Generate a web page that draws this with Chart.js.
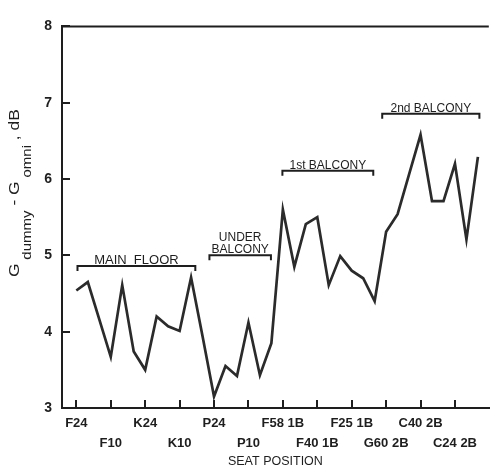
<!DOCTYPE html>
<html>
<head>
<meta charset="utf-8">
<script src="https://cdn.jsdelivr.net/npm/chart.js@4.4.0/dist/chart.umd.min.js"></script>
<style>
  html, body { margin: 0; padding: 0; background: #fff; }
  #wrap { width: 490px; height: 470px; }
</style>
</head>
<body>
<div id="wrap"><canvas id="chart"></canvas></div>
<script>
// seat number along the hall (one step per measured seat)
const seatIndex = [0, 1, 2, 3, 4, 5, 6, 7, 8, 9, 10, 11, 12, 13, 14, 15, 16, 17,
                   18, 19, 20, 21, 22, 23, 24, 25, 26, 27, 28, 29, 30, 31, 32, 33, 34, 35];
// G dummy - G omni, dB
const gainDiff = [4.54, 4.65, 4.16, 3.67, 4.61, 3.74, 3.50, 4.20, 4.07, 4.01, 4.71, 3.94,
                  3.15, 3.55, 3.42, 4.12, 3.43, 3.85, 5.60, 4.85, 5.41, 5.50, 4.61, 4.99,
                  4.80, 4.70, 4.40, 5.31, 5.54, 6.06, 6.58, 5.71, 5.71, 6.20, 5.21, 6.29];
const tickSeats = [0, 3, 6, 9, 12, 15, 18, 21, 24, 27, 30, 33];
const tickLabels = ['F24', 'F10', 'K24', 'K10', 'P24', 'P10',
                    'F58 1B', 'F40 1B', 'F25 1B', 'G60 2B', 'C40 2B', 'C24 2B'];
const sectionNames = [['MAIN  FLOOR'], ['UNDER', 'BALCONY'], ['1st BALCONY'], ['2nd BALCONY']];

const FONT = '"Liberation Sans", Arial, Helvetica, sans-serif';
const INK = '#1e1e1e';

// brackets over the seating sections, placed in data units
const bracketPlugin = {
  id: 'brackets',
  afterDatasetsDraw(chart) {
    const xs = chart.scales.x, ys = chart.scales.y, c = chart.ctx;
    const spans = [[0.1, 10.37, 4.86], [11.6, 16.96, 5.00], [17.96, 25.88, 6.11], [26.66, 35.13, 6.855]];
    c.save();
    c.strokeStyle = INK;
    c.fillStyle = INK;
    c.lineWidth = 2;
    c.textAlign = 'center';
    c.textBaseline = 'alphabetic';
    spans.forEach((s, i) => {
      const x1 = xs.getPixelForValue(s[0]);
      const x2 = xs.getPixelForValue(s[1]);
      const y = ys.getPixelForValue(s[2]);
      c.beginPath();
      c.moveTo(x1, y + 5);
      c.lineTo(x1, y);
      c.lineTo(x2, y);
      c.lineTo(x2, y + 5);
      c.stroke();
      const lines = sectionNames[i];
      c.font = (i === 0 ? '13px ' : '12px ') + FONT;
      lines.forEach((t, k) => {
        c.fillText(t, (x1 + x2) / 2, y - 2 - (lines.length - 1 - k) * 12);
      });
    });
    c.restore();
  }
};

// frame top line and y-axis title with subscripts
const framePlugin = {
  id: 'frame',
  afterDraw(chart) {
    const a = chart.chartArea, c = chart.ctx;
    c.save();
    c.strokeStyle = INK;
    c.lineWidth = 2;
    c.beginPath();
    c.moveTo(a.left - 1, a.top);
    c.lineTo(a.right, a.top);
    c.stroke();

    c.translate(19, 277);
    c.rotate(-Math.PI / 2);
    c.scale(1.25, 1);
    c.fillStyle = INK;
    c.textBaseline = 'alphabetic';
    const parts = [['G', 0, 0], ['dummy', 1, 3], [' - G', 0, 0], ['omni', 1, 3], [' , dB', 0, 0]];
    let pos = 0;
    parts.forEach(p => {
      c.font = (p[1] ? '12px ' : '14px ') + FONT;
      pos += p[2];
      c.fillText(p[0], pos, p[1] ? 12 : 0);
      pos += c.measureText(p[0]).width;
    });
    c.restore();
  }
};

const ctx = document.querySelector('#chart').getContext('2d');
const myChart = new Chart(ctx, {
  type: 'line',
  data: {
    datasets: [{
      data: seatIndex.map((s, i) => ({ x: s, y: gainDiff[i] })),
      borderColor: '#2b2b2b',
      borderWidth: 2.7,
      pointRadius: 0,
      tension: 0,
      fill: false
    }]
  },
  options: {
    responsive: true,
    maintainAspectRatio: false,
    animation: false,
    layout: { padding: { top: 15, right: 0, left: 0, bottom: 0 } },
    plugins: { legend: { display: false }, tooltip: { enabled: false } },
    scales: {
      x: {
        type: 'linear',
        min: -1.25,
        max: 35.95,
        afterBuildTicks: s => { s.ticks = tickSeats.map(v => ({ value: v })); },
        afterFit: s => { s.height = 62; },
        grid: { drawOnChartArea: false, tickLength: -8, color: INK, lineWidth: 2 },
        border: { display: true, color: INK, width: 2 },
        ticks: {
          autoSkip: false,
          maxRotation: 0,
          padding: 13,
          color: INK,
          font: { family: FONT, size: 13, weight: 'bold', lineHeight: 1.55 },
          callback: v => {
            const k = tickSeats.indexOf(v);
            if (k < 0) return '';
            return k % 2 ? ['', tickLabels[k]] : tickLabels[k];
          }
        },
        title: {
          display: true,
          text: 'SEAT POSITION',
          color: INK,
          font: { family: FONT, size: 12.5 },
          padding: { top: 0, bottom: 1 }
        }
      },
      y: {
        min: 3,
        max: 8,
        afterFit: s => { s.width = 62; },
        grid: { drawOnChartArea: false, tickLength: -8, color: INK, lineWidth: 2 },
        border: { display: true, color: INK, width: 2 },
        ticks: {
          stepSize: 1,
          padding: 18,
          color: INK,
          font: { family: FONT, size: 14, weight: 'bold' }
        }
      }
    }
  },
  plugins: [bracketPlugin, framePlugin]
});
</script>
</body>
</html>
